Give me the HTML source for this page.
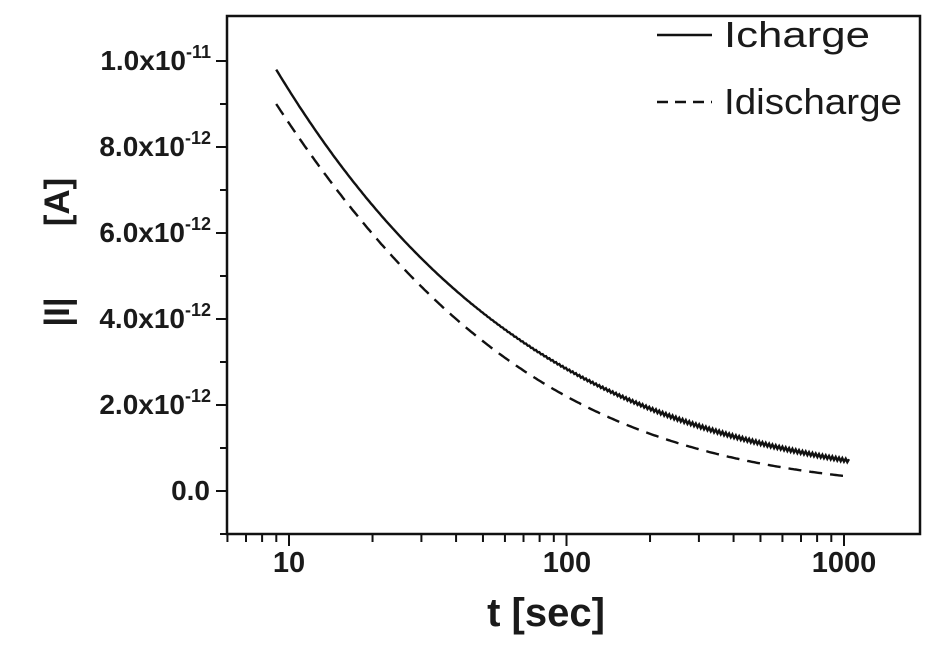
<!DOCTYPE html>
<html><head><meta charset="utf-8"><style>
html,body{margin:0;padding:0;background:#fff}
svg{display:block}
text{font-family:"Liberation Sans",Arial,sans-serif;font-weight:bold;fill:#1a1a1a}
</style></head><body>
<svg id="s" width="943" height="647" xmlns="http://www.w3.org/2000/svg">
<rect x="227" y="16" width="693" height="518" fill="none" stroke="#111" stroke-width="2.5"/>
<g id="ticks" stroke="#111" stroke-width="2"></g>
<g font-size="28" text-anchor="end">
<text x="211" y="70">1.0x10<tspan font-size="18" dy="-12">-11</tspan></text>
<text x="211" y="156">8.0x10<tspan font-size="18" dy="-12">-12</tspan></text>
<text x="211" y="242">6.0x10<tspan font-size="18" dy="-12">-12</tspan></text>
<text x="211" y="328">4.0x10<tspan font-size="18" dy="-12">-12</tspan></text>
<text x="211" y="414">2.0x10<tspan font-size="18" dy="-12">-12</tspan></text>
<text x="210" y="500">0.0</text>
</g>
<g font-size="29" text-anchor="middle">
<text x="289" y="572">10</text>
<text x="567" y="572">100</text>
<text x="844" y="572">1000</text>
</g>
<text x="546" y="626" font-size="40" text-anchor="middle">t [sec]</text>
<text transform="translate(69,202) rotate(-90)" font-size="35" text-anchor="middle">[A]</text>
<text transform="translate(69,312) rotate(-90)" font-size="35" text-anchor="middle">|I|</text>
<line x1="657" y1="35" x2="712" y2="35" stroke="#111" stroke-width="2.4"/>
<line x1="657" y1="102" x2="712" y2="102" stroke="#111" stroke-width="2.4" stroke-dasharray="11,7"/>
<text x="724" y="47" font-size="36" textLength="146" lengthAdjust="spacingAndGlyphs" style="font-weight:normal">Icharge</text>
<text x="724" y="114" font-size="36" textLength="178" lengthAdjust="spacingAndGlyphs" style="font-weight:normal">Idischarge</text>
<path id="c1" fill="none" stroke="#111" stroke-width="2.4"/>
<path id="c2" fill="none" stroke="#111" stroke-width="2.4" stroke-dasharray="13,8"/>
</svg>
<script>
var X=function(t){return 289+(Math.log10(t)-1)*277.5};
var Y=function(v){return 491-v*43};
var g=document.getElementById('ticks'),h='';
for(var i=-1;i<=10;i++){var y=491-i*43;var major=(i>=0&&i%2==0);h+='<line x1="227" y1="'+y+'" x2="'+(major?216:220)+'" y2="'+y+'"/>';}
for(var d=1;d<=1000;d*=10){for(var k=1;k<10;k++){var t=d*k;var x=X(t);if(x<227||x>921)continue;var major=(k==1&&d>=10);h+='<line x1="'+x+'" y1="534" x2="'+x+'" y2="'+(major?546:542)+'"/>';}}
g.innerHTML=h;
function lag(p,x){var s=0;for(var i=0;i<3;i++){var l=p[i][1];for(var j=0;j<3;j++)if(j!=i)l*=(x-p[j][0])/(p[i][0]-p[j][0]);s+=l;}return s;}
var A=[[0.954,Math.log10(9.8)],[2,Math.log10(2.84)],[3.02,Math.log10(0.7)]];
var B=[[0.954,Math.log10(9.0)],[2,Math.log10(2.2)],[3.0,Math.log10(0.35)]];
function path(a,end,noise){var s='',n=0;for(var lt=0.954;lt<=end+1e-9;lt+=0.006){var v=Math.pow(10,lag(a,lt));var yy=Y(v);if(noise&&lt>1.6){yy+=((n++)%2?1:-1)*Math.min(1.6,(lt-1.6)*2);}s+=(s?'L':'M')+X(Math.pow(10,lt)).toFixed(1)+','+yy.toFixed(1);}return s;}
document.getElementById('c1').setAttribute('d',path(A,3.02,true));
document.getElementById('c2').setAttribute('d',path(B,3.0,false));
</script>
</body></html>
